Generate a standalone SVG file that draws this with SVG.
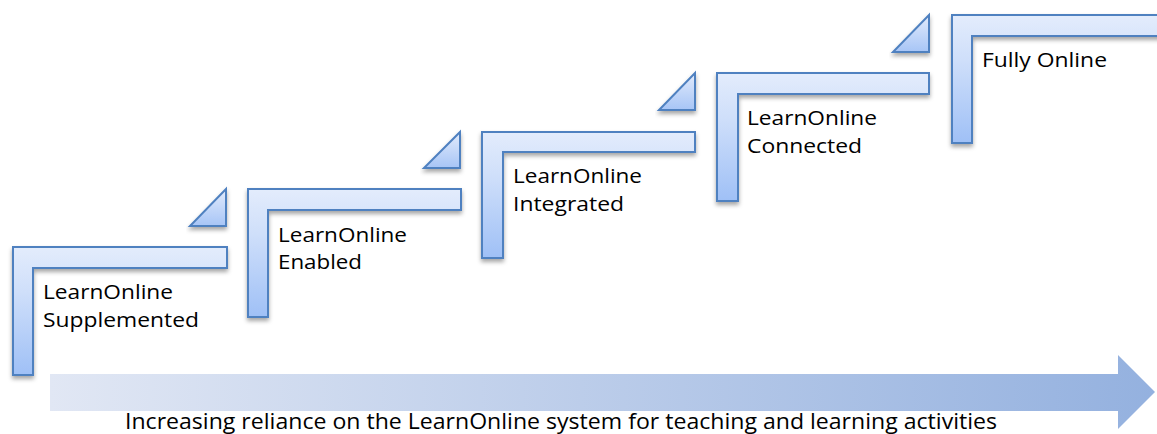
<svg xmlns="http://www.w3.org/2000/svg" width="1157" height="434" viewBox="0 0 1157 434">
  <defs>
    <linearGradient id="gL" x1="0" y1="0" x2="0" y2="1">
      <stop offset="0" stop-color="#e3ecfc"/>
      <stop offset="0.35" stop-color="#cfdffa"/>
      <stop offset="1" stop-color="#9fc0f6"/>
    </linearGradient>
    <linearGradient id="gT" x1="0" y1="0" x2="0" y2="1">
      <stop offset="0" stop-color="#e2ebfc"/>
      <stop offset="1" stop-color="#a7c5f6"/>
    </linearGradient>
    <linearGradient id="gA" x1="0" y1="0" x2="1" y2="0">
      <stop offset="0" stop-color="#e1e7f4"/>
      <stop offset="1" stop-color="#94b1df"/>
    </linearGradient>
    <filter id="sh" x="-10%" y="-10%" width="130%" height="140%">
      <feDropShadow dx="0" dy="3" stdDeviation="2" flood-color="#000" flood-opacity="0.35"/>
    </filter>
  </defs>
  <style>
    .step { fill: url(#gL); stroke: #4f81c0; stroke-width: 2; stroke-linejoin: miter; filter: url(#sh); }
    .tri { fill: url(#gT); stroke: #4f81c0; stroke-width: 2; stroke-linejoin: miter; filter: url(#sh); }
    .lbl { font-family: "Open Sans", "Noto Sans", "Liberation Sans", sans-serif; font-size: 20px; fill: #000; }
    .cap { font-family: "Open Sans", "Noto Sans", "Liberation Sans", sans-serif; font-size: 21px; fill: #000; }
  </style>

  <g id="connectors">
    <polygon id="tri1" class="tri" points="226,189 226,226 190,226"/>
    <polygon id="tri2" class="tri" points="460,132 460,168 424,168"/>
    <polygon id="tri3" class="tri" points="695,73 695,110 659,110"/>
    <polygon id="tri4" class="tri" points="929,15 929,52 893,52"/>
  </g>

  <g id="step1">
    <path class="step" d="M13,247 H227 V268 H33 V375 H13 Z"/>
    <text class="lbl" x="43" y="299" textLength="130" lengthAdjust="spacingAndGlyphs">LearnOnline</text>
    <text class="lbl" x="43" y="327" textLength="156" lengthAdjust="spacingAndGlyphs">Supplemented</text>
  </g>
  <g id="step2">
    <path class="step" d="M248,189 H461 V210 H268 V317 H248 Z"/>
    <text class="lbl" x="278" y="242" textLength="129" lengthAdjust="spacingAndGlyphs">LearnOnline</text>
    <text class="lbl" x="278" y="269" textLength="84" lengthAdjust="spacingAndGlyphs">Enabled</text>
  </g>
  <g id="step3">
    <path class="step" d="M482,132 H695 V152 H503 V258 H482 Z"/>
    <text class="lbl" x="513" y="183" textLength="129" lengthAdjust="spacingAndGlyphs">LearnOnline</text>
    <text class="lbl" x="513" y="211" textLength="111" lengthAdjust="spacingAndGlyphs">Integrated</text>
  </g>
  <g id="step4">
    <path class="step" d="M717,73 H929 V94 H738 V201 H717 Z"/>
    <text class="lbl" x="747" y="125" textLength="130" lengthAdjust="spacingAndGlyphs">LearnOnline</text>
    <text class="lbl" x="747" y="153" textLength="115" lengthAdjust="spacingAndGlyphs">Connected</text>
  </g>
  <g id="step5">
    <path class="step" d="M952,15 H1166 V36 H972 V143 H952 Z"/>
    <text class="lbl" x="982" y="67" textLength="125" lengthAdjust="spacingAndGlyphs">Fully Online</text>
  </g>

  <g id="arrow">
    <polygon fill="url(#gA)" points="50,374 1118,374 1118,355 1155,392 1118,429 1118,411 50,411"/>
    <text class="cap" x="125" y="429" textLength="872" lengthAdjust="spacingAndGlyphs">Increasing reliance on the LearnOnline system for teaching and learning activities</text>
  </g>
</svg>
